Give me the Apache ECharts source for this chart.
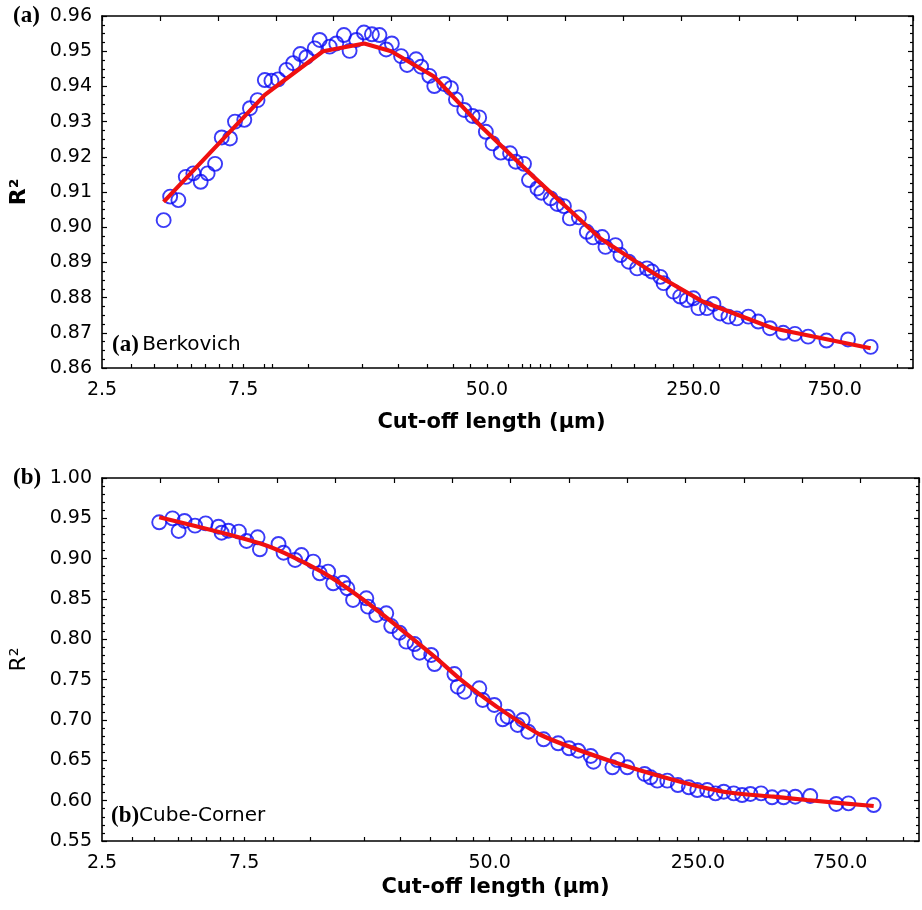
<!DOCTYPE html>
<html>
<head>
<meta charset="utf-8">
<script src="https://cdn.jsdelivr.net/npm/echarts@6/dist/echarts.min.js"></script>
<style>
html, body { margin: 0; padding: 0; background: #fff; }
#chart { width: 922px; height: 910px; }
</style>
</head>
<body>
<div id="chart"></div>
<script>
// ---- Berkovich indenter: R² versus cut-off length (µm) ----
const berkLength = [4.04, 4.25, 4.53, 4.80, 5.09, 5.39, 5.69, 6.03, 6.35, 6.77, 7.04, 7.57, 7.91, 8.39, 8.88, 9.35, 9.85,
  10.51, 11.07, 11.71, 12.27, 13.09, 13.61, 14.71, 15.49, 16.44, 17.18, 18.09, 19.21, 20.44, 21.68, 22.84, 23.87,
  25.66, 26.88, 28.83, 29.98, 31.96, 33.22, 35.90, 37.82, 39.32, 41.95, 44.76, 47.11, 49.63, 52.27, 55.75, 59.92,
  62.63, 66.79, 69.43, 74.13, 76.47, 82.17, 86.55, 91.11, 95.46, 102.4, 108.9, 114.3, 122.7, 125.9, 136.1, 141.5,
  150.9, 161.1, 174.0, 180.9, 193.0, 198.0, 213.9, 225.4, 237.4, 249.8, 259.7, 277.4, 291.9, 307.5, 328.0, 349.9,
  383.0, 413.8, 453.2, 502.4, 550.4, 609.9, 703.7, 832.0, 992.2];
const berkR2 = [0.9020, 0.9087, 0.9077, 0.9143, 0.9153, 0.9129, 0.9153, 0.9180, 0.9255, 0.9252, 0.9300, 0.9305, 0.9338,
  0.9361, 0.9418, 0.9416, 0.9420, 0.9447, 0.9466, 0.9492, 0.9483, 0.9508, 0.9532, 0.9513, 0.9522, 0.9546, 0.9501,
  0.9532, 0.9553, 0.9548, 0.9546, 0.9505, 0.9522, 0.9486, 0.9461, 0.9477, 0.9456, 0.9430, 0.9401, 0.9407, 0.9395,
  0.9363, 0.9333, 0.9316, 0.9312, 0.9271, 0.9238, 0.9212, 0.9210, 0.9186, 0.9180, 0.9134, 0.9110, 0.9098, 0.9082,
  0.9066, 0.9060, 0.9025, 0.9028, 0.8987, 0.8971, 0.8972, 0.8944, 0.8949, 0.8921, 0.8902, 0.8883, 0.8883, 0.8874,
  0.8859, 0.8841, 0.8817, 0.8803, 0.8793, 0.8798, 0.8770, 0.8770, 0.8782, 0.8755, 0.8746, 0.8741, 0.8746, 0.8732,
  0.8713, 0.8700, 0.8697, 0.8689, 0.8678, 0.8681, 0.8660];
const berkFitLength = [4.04, 8.88, 13.97, 19.26, 23.74, 33.14, 47.73, 72.01, 121.1, 182.8, 269.5, 463.9, 992.2];
const berkFitR2 = [0.9072, 0.9376, 0.9500, 0.9522, 0.9500, 0.9428, 0.9287, 0.9143, 0.8968, 0.8870, 0.8788, 0.8713, 0.8656];

// ---- Cube-Corner indenter: R² versus cut-off length (µm) ----
const cubeLength = [3.89, 4.31, 4.52, 4.73, 5.13, 5.57, 6.15, 6.30, 6.64, 7.20, 7.64, 8.32, 8.47, 9.78, 10.17, 11.12,
  11.68, 12.79, 13.45, 14.35, 14.92, 16.11, 16.65, 17.40, 19.28, 19.53, 20.82, 22.49, 23.37, 24.92, 26.24, 27.98,
  29.08, 31.83, 32.65, 38.08, 39.09, 41.14, 46.16, 47.39, 51.83, 55.30, 57.46, 62.08, 64.51, 67.36, 75.86, 84.89,
  92.40, 99.06, 109.2, 111.5, 129.1, 134.2, 144.9, 165.6, 173.4, 182.6, 197.3, 214.1, 233.1, 248.7, 268.5, 286.3,
  305.2, 329.7, 351.7, 375.0, 407.2, 443.3, 484.7, 530.4, 595.4, 727.8, 800.3, 972.3];
const cubeR2 = [0.9451, 0.9500, 0.9343, 0.9467, 0.9409, 0.9438, 0.9396, 0.9322, 0.9347, 0.9335, 0.9219, 0.9265, 0.9116,
  0.9182, 0.9074, 0.8984, 0.9045, 0.8963, 0.8819, 0.8839, 0.8695, 0.8702, 0.8633, 0.8488, 0.8509, 0.8405, 0.8302,
  0.8323, 0.8165, 0.8082, 0.7971, 0.7942, 0.7834, 0.7806, 0.7694, 0.7570, 0.7413, 0.7351, 0.7393, 0.7248, 0.7186,
  0.7009, 0.7041, 0.6938, 0.7000, 0.6855, 0.6761, 0.6711, 0.6649, 0.6619, 0.6554, 0.6483, 0.6414, 0.6504, 0.6414,
  0.6331, 0.6290, 0.6248, 0.6248, 0.6194, 0.6166, 0.6132, 0.6132, 0.6091, 0.6111, 0.6091, 0.6070, 0.6083, 0.6091,
  0.6042, 0.6042, 0.6049, 0.6058, 0.5959, 0.5967, 0.5946];
const cubeFitLength = [3.89, 8.80, 13.63, 19.53, 32.64, 40.10, 51.83, 74.30, 124.2, 207.6, 305.2, 448.7, 580.4, 972.3];
const cubeFitR2 = [0.9513, 0.9169, 0.8839, 0.8447, 0.7785, 0.7496, 0.7186, 0.6814, 0.6504, 0.6256, 0.6111, 0.6049, 0.6008, 0.5934];

// ---- Axis ticks (µm) ----
const xTickLabels = [2.5, 7.5, 50, 250, 750];
const xTickMarks = [3.15, 3.75, 4.5, 5, 5.6, 6.25, 6.9, 7.5, 8.85, 9.4, 12.5, 19, 25, 31.5, 38.5, 44, 50, 59, 66, 70,
  76, 82, 94, 109, 132, 157, 186, 213, 250, 305, 365, 425, 490, 595, 750, 918, 1220];
const xRange = [2.5, 1380];
const topTickCount = 14;

const lg = Math.log10;
const xMin = lg(xRange[0]);
const xMax = lg(xRange[1]);
const topTicks = [];
for (let i = 0; i <= topTickCount; i++) topTicks.push(xMin + (xMax - xMin) * i / topTickCount);

const pairs = (xs, ys) => xs.map((x, i) => [lg(x), ys[i]]);

const SANS = '"DejaVu Sans", sans-serif';
const SERIF = '"Liberation Serif", "DejaVu Serif", serif';
const axisLine = { show: true, onZero: false, lineStyle: { color: '#000', width: 1.6 } };
const tickStyle = { color: '#000', width: 1.2 };

function bottomAxis(gridIndex, nameGap, shiftLeft) {
  return {
    type: 'value', gridIndex, position: 'bottom', min: xMin, max: xMax,
    axisLine,
    splitLine: { show: false },
    axisTick: { show: true, inside: true, length: 4, lineStyle: tickStyle, customValues: xTickMarks.map(lg) },
    axisLabel: {
      show: true, margin: 13, color: '#000', fontFamily: SANS, fontSize: 19,
      customValues: xTickLabels.map(lg),
      formatter: v => Math.pow(10, v).toFixed(1)
    },
    name: 'Cut-off length (µm)', nameLocation: 'middle', nameGap,
    nameTextStyle: { color: '#000', fontFamily: SANS, fontSize: 21, fontWeight: 'bold', padding: [0, shiftLeft * 2, 0, 0] }
  };
}
function topAxis(gridIndex) {
  return {
    type: 'value', gridIndex, position: 'top', min: xMin, max: xMax,
    axisLine,
    splitLine: { show: false },
    axisTick: { show: true, inside: true, length: 5, lineStyle: tickStyle, customValues: topTicks },
    axisLabel: { show: false }
  };
}
function leftAxis(gridIndex, min, max, interval, minorSplit, nameStyle) {
  return {
    type: 'value', gridIndex, position: 'left', min, max, interval,
    axisLine,
    splitLine: { show: false },
    axisTick: { show: true, inside: true, length: 5, lineStyle: tickStyle },
    minorTick: { show: true, splitNumber: minorSplit, length: 3, lineStyle: tickStyle },
    minorSplitLine: { show: false },
    axisLabel: { show: true, margin: 10, color: '#000', fontFamily: SANS, fontSize: 19, formatter: v => v.toFixed(2) },
    name: 'R²', nameLocation: 'middle', nameGap: 72, nameRotate: 90,
    nameTextStyle: Object.assign({ color: '#000', fontFamily: SANS, fontSize: 22 }, nameStyle)
  };
}
function rightAxis(gridIndex, min, max, interval, minorSplit) {
  return {
    type: 'value', gridIndex, position: 'right', min, max, interval,
    axisLine,
    splitLine: { show: false },
    axisTick: { show: true, inside: true, length: 5, lineStyle: tickStyle },
    minorTick: { show: true, splitNumber: minorSplit, length: 3, lineStyle: tickStyle },
    minorSplitLine: { show: false },
    axisLabel: { show: false }
  };
}

const circleStyle = { color: 'rgba(0,0,0,0)', borderColor: '#0a0af5', borderWidth: 1.9 };
function dots(xAxisIndex, yAxisIndex, data) {
  return { type: 'scatter', xAxisIndex, yAxisIndex, data, symbol: 'circle', symbolSize: 14,
    itemStyle: circleStyle, silent: true, z: 2 };
}
function fit(xAxisIndex, yAxisIndex, data, smooth) {
  return { type: 'line', xAxisIndex, yAxisIndex, data, showSymbol: false, smooth,
    lineStyle: { color: '#f01010', width: 4.2 }, silent: true, z: 3 };
}

const panelLabel = (x, y, text) => ({
  type: 'text', x, y,
  style: { text, font: 'bold 23px ' + SERIF, fill: '#000', verticalAlign: 'middle' }
});
const insideLabel = (x, y, tag, name, gap) => ({
  type: 'text', x, y,
  style: {
    text: '{s|' + tag + '}' + gap + '{t|' + name + '}', verticalAlign: 'middle', fill: '#000',
    rich: {
      s: { font: 'bold 23px ' + SERIF, fill: '#000' },
      t: { font: '20px ' + SANS, fill: '#000' }
    }
  }
});

const chart = echarts.init(document.getElementById('chart'), null, { renderer: 'canvas' });
chart.setOption({
  animation: false,
  backgroundColor: '#fff',
  grid: [
    { left: 101, top: 16, width: 812, height: 352 },
    { left: 100, top: 478, width: 819, height: 363 }
  ],
  xAxis: [bottomAxis(0, 44, 16), topAxis(0), bottomAxis(1, 36, 15), topAxis(1)],
  yAxis: [
    leftAxis(0, 0.86, 0.96, 0.01, 4, { fontWeight: 'bold' }), rightAxis(0, 0.86, 0.96, 0.01, 4),
    leftAxis(1, 0.55, 1.00, 0.05, 5, { fontWeight: 'normal' }), rightAxis(1, 0.55, 1.00, 0.05, 5)
  ],
  series: [
    dots(0, 0, pairs(berkLength, berkR2)),
    fit(0, 0, pairs(berkFitLength, berkFitR2), false),
    dots(2, 2, pairs(cubeLength, cubeR2)),
    fit(2, 2, pairs(cubeFitLength, cubeFitR2), 0.25)
  ],
  graphic: [
    panelLabel(13, 16, '(a)'),
    panelLabel(13, 478, '(b)'),
    insideLabel(112, 345, '(a)', 'Berkovich', ' '),
    insideLabel(111, 816, '(b)', 'Cube-Corner', '')
  ]
});
</script>
</body>
</html>
